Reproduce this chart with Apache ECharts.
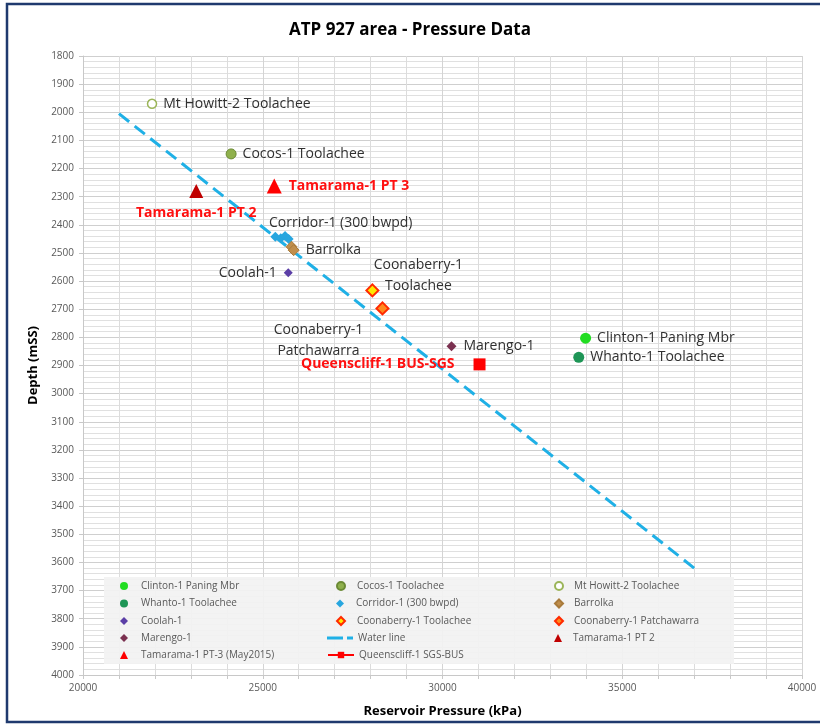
<!DOCTYPE html>
<html>
<head>
<meta charset="utf-8">
<script src="https://cdn.jsdelivr.net/npm/echarts@6/dist/echarts.min.js"></script>
<style>
  html, body { margin: 0; padding: 0; background: #ffffff; }
  #chart { width: 820px; height: 724px; }
</style>
</head>
<body>
<div id="chart"></div>
<script>
// Well pressure measurements: [reservoir pressure (kPa), depth (mSS)]
const clinton      = [[33980, 2803]];
const whanto       = [[33790, 2871]];
const cocos        = [[24120, 2148]];
const mtHowitt     = [[21920, 1970]];
const corridor     = [[25350, 2442], [25500, 2448], [25620, 2440], [25720, 2450]];
const barrolka     = [[25800, 2478], [25860, 2490]];
const coolah       = [[25710, 2570]];
const coonaToola   = [[28050, 2633]];
const coonaPatcha  = [[28330, 2697]];
const marengo      = [[30250, 2832]];
const tamaramaPT2  = [[23150, 2280]];
const tamaramaPT3  = [[25320, 2262]];
const queenscliff  = [[31030, 2896]];
const waterLine    = [[21000, 2005], [37050, 3625]];

const xTicks = { min: 20000, max: 40000, step: 5000 };
const yTicks = { min: 1800, max: 4000, step: 100 };

// legend layout: three columns of series names
const legendCol1 = ['Clinton-1 Paning Mbr', 'Whanto-1 Toolachee', 'Coolah-1', 'Marengo-1', 'Tamarama-1 PT-3 (May2015)'];
const legendCol2 = ['Cocos-1 Toolachee', 'Corridor-1 (300 bwpd)', 'Coonaberry-1 Toolachee', 'Water line', 'Queenscliff-1 SGS-BUS'];
const legendCol3 = ['Mt Howitt-2 Toolachee', 'Barrolka', 'Coonaberry-1 Patchawarra', 'Tamarama-1 PT 2'];

const FONT = "'Open Sans', 'Noto Sans', sans-serif";
const labelGrey = { color: '#303030', fontSize: 14, fontFamily: FONT };
const labelRed  = { color: '#ff1010', fontSize: 14, fontFamily: FONT, fontWeight: 'bold' };

// attach a text label to one point of a series
function withLabel(points, idx, label) {
  return points.map((p, i) => i === idx
    ? { value: p, label: Object.assign({ show: true }, label) }
    : { value: p });
}

function scatter(name, points, symbol, size, itemStyle, labelIdx, label) {
  return {
    name, type: 'scatter', symbol, symbolSize: size, z: 5,
    itemStyle: Object.assign({ opacity: 1 }, itemStyle),
    data: label ? withLabel(points, labelIdx, label) : points
  };
}

const WATER = '#1fb0e6';
const series = [
  {
    name: 'Water line', type: 'line', data: waterLine, showSymbol: false, symbol: 'none',
    itemStyle: { color: WATER },
    lineStyle: { color: WATER, width: 3, type: [13, 7] }, z: 2, silent: true
  },
  scatter('Clinton-1 Paning Mbr', clinton, 'circle', 11, { color: '#22dd22' }, 0,
    Object.assign({ position: 'right', distance: 6, formatter: 'Clinton-1 Paning Mbr' }, labelGrey)),
  scatter('Whanto-1 Toolachee', whanto, 'circle', 11, { color: '#1e9556' }, 0,
    Object.assign({ position: 'right', distance: 6, formatter: 'Whanto-1 Toolachee' }, labelGrey)),
  scatter('Cocos-1 Toolachee', cocos, 'circle', 10, { color: '#8fb04c', borderColor: '#6b8a35', borderWidth: 1 }, 0,
    Object.assign({ position: 'right', distance: 6, formatter: 'Cocos-1 Toolachee' }, labelGrey)),
  scatter('Mt Howitt-2 Toolachee', mtHowitt, 'circle', 9, { color: '#ffffff', borderColor: '#9bb559', borderWidth: 1.5 }, 0,
    Object.assign({ position: 'right', distance: 6, formatter: 'Mt Howitt-2 Toolachee' }, labelGrey)),
  scatter('Corridor-1 (300 bwpd)', corridor, 'diamond', 10, { color: '#27a6df' }, 1,
    Object.assign({ position: 'inside', offset: [60, -15], formatter: 'Corridor-1 (300 bwpd)' }, labelGrey)),
  scatter('Barrolka', barrolka, 'diamond', 11, { color: '#c08e4c', borderColor: '#a87a3a', borderWidth: 1 }, 1,
    Object.assign({ position: 'right', distance: 6, formatter: 'Barrolka' }, labelGrey)),
  scatter('Coolah-1', coolah, 'diamond', 9, { color: '#5b3ea6' }, 0,
    Object.assign({ position: 'left', distance: 7, formatter: 'Coolah-1' }, labelGrey)),
  scatter('Coonaberry-1 Toolachee', coonaToola, 'diamond', 12, { color: '#ffe800', borderColor: '#ff2a00', borderWidth: 2 }, 0,
    Object.assign({ position: 'inside', offset: [46, -15], align: 'center', lineHeight: 21, formatter: 'Coonaberry-1\nToolachee' }, labelGrey)),
  scatter('Coonaberry-1 Patchawarra', coonaPatcha, 'diamond', 12, { color: '#ff8a1e', borderColor: '#ff2a00', borderWidth: 2 }, 0,
    Object.assign({ position: 'inside', offset: [-64, 32], align: 'center', lineHeight: 21, formatter: 'Coonaberry-1\nPatchawarra' }, labelGrey)),
  scatter('Marengo-1', marengo, 'diamond', 10, { color: '#7a3050' }, 0,
    Object.assign({ position: 'right', distance: 7, formatter: 'Marengo-1' }, labelGrey)),
  scatter('Tamarama-1 PT 2', tamaramaPT2, 'triangle', 14, { color: '#c00000' }, 0,
    Object.assign({ position: 'inside', offset: [0, 22], formatter: 'Tamarama-1 PT 2' }, labelRed)),
  scatter('Tamarama-1 PT-3 (May2015)', tamaramaPT3, 'triangle', 15, { color: '#ff0000' }, 0,
    Object.assign({ position: 'right', distance: 7, formatter: 'Tamarama-1 PT 3' }, labelRed)),
  {
    name: 'Queenscliff-1 SGS-BUS', type: 'line', symbol: 'rect', symbolSize: 12, showSymbol: true, z: 5,
    itemStyle: { color: '#ff0000', opacity: 1 }, lineStyle: { color: '#ff0000', width: 2.5 },
    data: withLabel(queenscliff, 0,
      Object.assign({ position: 'left', distance: 19, formatter: 'Queenscliff-1 BUS-SGS' }, labelRed))
  }
];

// one legend component per entry so every row/column lines up
const legendText = { color: '#595959', fontSize: 10, fontFamily: FONT, lineHeight: 12 };
const colIcon = [124, 340, 558];   // icon centre x for each column
const colText = [141, 356, 573];   // text start x for each column
const rowY = [586, 603.5, 621, 638, 655];
const lineEntries = { 'Water line': true, 'Queenscliff-1 SGS-BUS': true };

function legendCell(col, row, name) {
  const isLine = lineEntries[name];
  const w = isLine ? 26 : 8;
  const left = colIcon[col] - w / 2;
  const pad = colText[col] - (left + w + 5);
  const item = { name };
  if (name === 'Water line') {
    item.icon = 'path://M0,0H16V3H0Z M20,0H26V3H20Z';
  }
  return {
    orient: 'vertical', left, top: rowY[row] - 6, padding: 0,
    itemWidth: w, itemHeight: name === 'Water line' ? 3 : 8,
    textStyle: Object.assign({ padding: [0, 0, 0, Math.max(0, pad)] }, legendText),
    selectedMode: false, data: [item]
  };
}

const legends = [];
[legendCol1, legendCol2, legendCol3].forEach((names, c) =>
  names.forEach((n, r) => legends.push(legendCell(c, r, n))));

const chart = echarts.init(document.getElementById('chart'), null, { renderer: 'canvas' });
chart.setOption({
  backgroundColor: '#ffffff',
  animation: false,
  title: {
    text: 'ATP 927 area - Pressure Data', left: 'center', top: 17,
    textStyle: { fontSize: 17, fontWeight: 'bold', color: '#000000', fontFamily: FONT }
  },
  graphic: [
    {
      type: 'rect', shape: { x: 7, y: 4, width: 830, height: 718 }, silent: true, z: -10,
      style: { fill: 'none', stroke: '#1f3a6e', lineWidth: 2.5 }
    },
    {
      type: 'rect', shape: { x: 104, y: 577, width: 630, height: 87 }, silent: true, z: 3,
      style: { fill: 'rgba(242,242,242,0.93)', stroke: 'none' }
    }
  ],
  legend: legends,
  grid: { left: 83, right: 18, top: 56, bottom: 49, containLabel: false },
  xAxis: {
    type: 'value', min: xTicks.min, max: xTicks.max, interval: xTicks.step,
    name: 'Reservoir Pressure (kPa)', nameLocation: 'middle', nameGap: 30,
    nameTextStyle: { fontSize: 13, fontWeight: 'bold', color: '#000000', fontFamily: FONT },
    axisLine: { show: true, lineStyle: { color: '#c8c8c8' } },
    axisTick: { show: true, length: 4, lineStyle: { color: '#c8c8c8' } },
    minorTick: { show: true, splitNumber: 5, length: 4, lineStyle: { color: '#c8c8c8' } },
    axisLabel: { color: '#595959', fontSize: 10, fontFamily: FONT, margin: 8, formatter: v => String(v) },
    splitLine: { show: true, lineStyle: { color: '#d4d4d4' } },
    minorSplitLine: { show: true, lineStyle: { color: '#dcdcdc' } }
  },
  yAxis: {
    type: 'value', inverse: true, min: yTicks.min, max: yTicks.max, interval: yTicks.step,
    name: 'Depth (mSS)', nameLocation: 'middle', nameGap: 42, nameRotate: 90,
    nameTextStyle: { fontSize: 13, fontWeight: 'bold', color: '#000000', fontFamily: FONT },
    axisLine: { show: true, lineStyle: { color: '#c8c8c8' } },
    axisTick: { show: true, length: 4, lineStyle: { color: '#c8c8c8' } },
    axisLabel: { color: '#595959', fontSize: 10, fontFamily: FONT, margin: 9, formatter: v => String(v) },
    splitLine: { show: true, lineStyle: { color: '#cfcfcf' } },
    minorSplitLine: { show: true, lineStyle: { color: '#e0e0e0' } },
    minorTick: { show: false, splitNumber: 5 }
  },
  series
});
</script>
</body>
</html>
